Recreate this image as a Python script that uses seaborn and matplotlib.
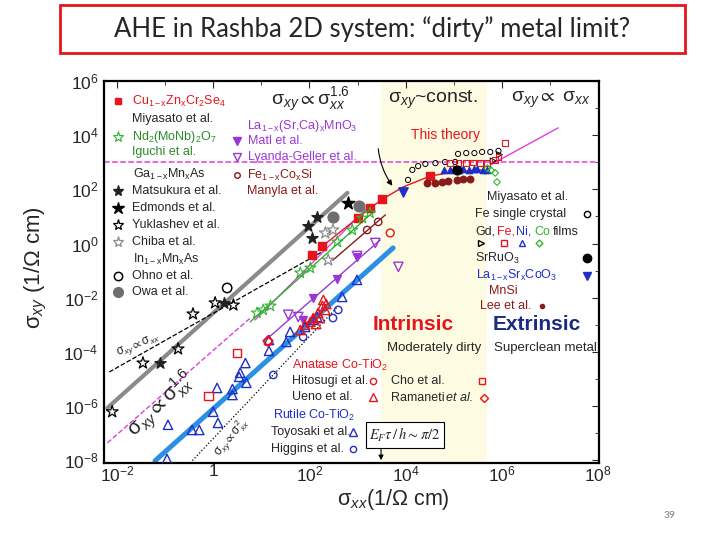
import numpy as np
import pandas as pd
import matplotlib
matplotlib.use('Agg')
import matplotlib.pyplot as plt
from matplotlib.patches import Rectangle
import seaborn as sns

# ------------------------------------------------------------
# values, stored as log10(sigma)
# x -> log10 sigma_xx , y -> log10 sigma_xy
# ------------------------------------------------------------

# fit / guide lines
gray_fit_x = [-2.20, 2.79]
gray_fit_y = [-6.07, 1.87]
blue_fit_x = [-1.21, 3.74]
blue_fit_y = [-8.02, -0.16]
slope1_x = [-2.16, 2.37]
slope1_y = [-4.74, -0.20]
slope2_x = [-0.48, 2.58]
slope2_y = [-8.10, -2.34]
slope16_x = [-2.20, 0.77]
slope16_y = [-7.36, -2.75]
clean_x = [5.76, 7.17]
clean_y = [2.90, 4.27]
theory_x = [2.27, 2.43, 3.26, 3.53, 3.95, 4.51, 4.99, 5.61]
theory_y = [-0.09, 0.13, 1.31, 1.65, 2.09, 2.49, 2.64, 2.72]
nd_fit_x = [0.77, 3.33]
nd_fit_y = [-2.89, 1.17]
mag_fit_x = [0.87, 3.26]
mag_fit_y = [-2.82, 1.42]
matl_fit_x = [1.19, 3.47]
matl_fit_y = [-3.41, 0.13]
fecosi_fit_x = [2.49, 3.58]
fecosi_fit_y = [-0.61, 1.06]
const_level = 3.0
dirty_band = [3.49, 5.70]
ef_tau_x = 3.49

# Cu1-xZnxCr2Se4 (Miyasato)
cu_x = [2.06, 2.27, 3.01, 3.26, 3.51, 4.51]
cu_y = [-0.42, -0.09, 0.94, 1.31, 1.65, 2.49]
# Nd2(MoNb)2O7 (Iguchi)
nd_x = [0.91, 1.04, 1.19, 1.81, 2.02, 2.58, 2.89, 3.10, 3.26]
nd_y = [-2.56, -2.45, -2.30, -1.08, -0.90, 0.06, 0.50, 0.94, 1.13]
# Ga1-xMnxAs
matsukura_x = [-1.10, 0.23, 1.98, 2.16, 2.06]
matsukura_y = [-4.41, -2.19, 0.65, 0.98, 0.21]
edmonds_x = [2.81]
edmonds_y = [1.50]
yuklashev_x = [-2.10, -1.46, -0.73, -0.42, 0.04, 0.42]
yuklashev_y = [-6.21, -4.41, -3.89, -2.60, -2.19, -2.27]
chiba_x = [2.33, 2.49, 2.39]
chiba_y = [0.39, 0.50, -0.61]
# In1-xMnxAs
ohno_x = [0.29]
ohno_y = [-1.64]
owa_x = [2.49, 3.04]
owa_y = [0.98, 1.39]
# La1-x(Sr,Ca)xMnO3
matl_x = [1.87, 2.08, 2.58, 2.99]
matl_y = [-2.82, -2.01, -1.31, -0.49]
lyanda_x = [1.56, 1.77, 2.99, 3.37, 3.85]
lyanda_y = [-2.63, -2.71, -0.46, 0.02, -0.86]
# Fe1-xCoxSi (Manyla)
fecosi_x = [3.20, 3.43]
fecosi_y = [0.50, 0.80]
# clean metals
fe_xtal_x = [4.05, 4.14, 4.26, 4.41, 4.62, 4.82, 5.03, 5.09, 5.26, 5.43, 5.59, 5.76, 5.93]
fe_xtal_y = [2.35, 2.72, 2.86, 2.94, 2.97, 3.01, 3.01, 3.31, 3.34, 3.34, 3.38, 3.38, 3.42]
gd_x = [5.82, 5.95]
gd_y = [3.05, 3.28]
fe_film_x = [4.93, 5.10, 5.25, 5.40, 5.55, 5.70, 5.86, 5.93, 6.07]
fe_film_y = [2.97, 2.98, 2.96, 2.99, 2.97, 2.98, 3.08, 3.19, 3.71]
ni_x = [4.80, 4.92, 5.01, 5.12, 5.19, 5.31, 5.42, 5.49, 5.61, 5.70]
ni_y = [2.70, 2.72, 2.74, 2.72, 2.75, 2.73, 2.76, 2.74, 2.72, 2.70]
co_film_x = [5.70, 5.78, 5.86, 5.90]
co_film_y = [2.78, 2.70, 2.61, 2.27]
srruo3_x = [5.07]
srruo3_y = [2.72]
lasrcoo3_x = [3.95]
lasrcoo3_y = [1.90]
mnsi_x = [4.45, 4.62, 4.76, 4.89, 5.07, 5.20, 5.34]
mnsi_y = [2.22, 2.24, 2.27, 2.31, 2.35, 2.38, 2.38]
# Co-TiO2 and others
toyosaki_x = [-0.96, -0.94, -0.44, -0.29, 0.00, 0.10, 0.08, 0.40, 0.40, 0.56, 0.54, 0.69,
              0.67, 1.16, 1.16, 1.52, 1.60, 1.91, 2.08, 2.16, 2.68, 2.99]
toyosaki_y = [-7.95, -6.69, -6.88, -6.88, -6.21, -6.62, -5.33, -5.37, -5.59, -4.77, -4.92, -5.14,
              -4.41, -3.56, -3.96, -3.63, -3.26, -3.08, -2.82, -2.71, -1.97, -1.34]
higgins_x = [1.25, 1.87, 2.49, 2.60]
higgins_y = [-4.85, -3.45, -2.75, -2.45]
hitosugi_x = [1.14, 3.68]
hitosugi_y = [-3.63, 0.39]
ueno_x = [2.08, 2.18, 2.27, 2.29, 2.22, 2.14, 2.02, 2.33, 1.91, 1.81, 2.35]
ueno_y = [-2.75, -2.56, -2.30, -2.08, -2.75, -2.97, -2.89, -2.45, -3.00, -3.19, -2.23]
cho_x = [0.50, -0.10]
cho_y = [-4.04, -5.62]
ramaneti_x = [1.14]
ramaneti_y = [-3.59]

xtick_pos = [-2, 0, 2, 4, 6, 8]
xtick_lbl = [r'$10^{-2}$', '1', r'$10^{2}$', r'$10^{4}$', r'$10^{6}$', r'$10^{8}$']
ytick_pos = [-8, -6, -4, -2, 0, 2, 4, 6]
ytick_lbl = [r'$10^{-8}$', r'$10^{-6}$', r'$10^{-4}$', r'$10^{-2}$', r'$10^{0}$',
             r'$10^{2}$', r'$10^{4}$', r'$10^{6}$']

# colours
RED = '#e8141c'
DRED = '#8b1a1a'
GREEN = '#2fb52f'
PURPLE = '#9b36d6'
MAGENTA = '#e03ee0'
BLUE = '#1f2fc8'
LBLUE = '#2c8fe3'
NAVY = '#1a2a80'

sns.set_style('white')
plt.rcParams['font.family'] = ['Liberation Sans', 'DejaVu Sans']
plt.rcParams['mathtext.fontset'] = 'custom'
plt.rcParams['mathtext.rm'] = 'Liberation Sans'
plt.rcParams['mathtext.it'] = 'Liberation Sans:italic'
plt.rcParams['mathtext.bf'] = 'Liberation Sans:bold'
plt.rcParams['mathtext.default'] = 'regular'

fig = plt.figure(figsize=(7.2, 5.4), dpi=100)
ax = fig.add_axes([104 / 720, 1 - 463 / 540, 495 / 720, 382 / 540])
ax.set_xscale('log')
ax.set_yscale('log')


def F(px, py):
    # figure pixel -> figure fraction
    return px / 720, 1 - py / 540


def v(a):
    return 10.0 ** np.asarray(a, dtype=float)


def line(xl, yl, color, lw=1.0, ls='-', z=2):
    sns.lineplot(x=v(xl), y=v(yl), ax=ax, color=color, lw=lw, linestyle=ls,
                 sort=False, estimator=None, zorder=z, legend=False)


def pts(xl, yl, marker, color, filled=True, s=30, lw=1.0, z=4):
    d = pd.DataFrame({'x': v(xl), 'y': v(yl)})
    sns.scatterplot(data=d, x='x', y='y', ax=ax, marker=marker, s=s,
                    color=color if filled else 'none', edgecolor=color,
                    linewidth=lw, zorder=z, legend=False)


def ftxt(px, py, s, **kw):
    kw.setdefault('va', 'center')
    kw.setdefault('ha', 'left')
    return fig.text(*F(px, py), s, **kw)


def fmark(px, py, marker, color, filled=True, ms=6, mew=1.0):
    fx, fy = F(px, py)
    ax.plot([fx], [fy], marker=marker, ms=ms, mew=mew, color=color,
            mfc=color if filled else 'none', transform=fig.transFigure,
            clip_on=False, zorder=6)


# background band
ax.axvspan(v(dirty_band[0]), v(dirty_band[1]), color='#fdfbe2', zorder=0, lw=0)
ax.axhline(v(const_level), color=MAGENTA, lw=1.1, ls='--', zorder=1)

# guide lines
line(gray_fit_x, gray_fit_y, '#8a8a8a', lw=3.0)
line(blue_fit_x, blue_fit_y, LBLUE, lw=3.6)
line(slope1_x, slope1_y, 'k', lw=0.9, ls='--')
line(slope2_x, slope2_y, 'k', lw=0.9, ls=':')
line(slope16_x, slope16_y, MAGENTA, lw=1.0, ls='--')
line(clean_x, clean_y, MAGENTA, lw=1.0)
line(mag_fit_x, mag_fit_y, MAGENTA, lw=1.0)
line(nd_fit_x, nd_fit_y, GREEN, lw=1.0)
line(matl_fit_x, matl_fit_y, PURPLE, lw=1.0)
line(fecosi_fit_x, fecosi_fit_y, DRED, lw=1.0)
line(theory_x, theory_y, RED, lw=1.0)

# data points
pts(cu_x, cu_y, 's', RED, s=28)
pts(nd_x, nd_y, '*', GREEN, filled=False, s=70, lw=0.8)
pts(yuklashev_x, yuklashev_y, '*', 'k', filled=False, s=80, lw=0.9)
pts(matsukura_x, matsukura_y, '*', '#222222', s=70)
pts(edmonds_x, edmonds_y, '*', 'k', s=90)
pts(chiba_x, chiba_y, '*', '#8c8c8c', filled=False, s=80, lw=0.9)
pts(ohno_x, ohno_y, 'o', 'k', filled=False, s=45, lw=1.1)
pts(owa_x, owa_y, 'o', '#6e6e6e', s=60)
pts(matl_x, matl_y, 'v', PURPLE, s=32)
pts(lyanda_x, lyanda_y, 'v', PURPLE, filled=False, s=45, lw=1.0)
pts(fecosi_x, fecosi_y, 'o', DRED, filled=False, s=28, lw=1.0)
pts(fe_xtal_x, fe_xtal_y, 'o', 'k', filled=False, s=14, lw=0.7)
pts(gd_x, gd_y, '>', 'k', filled=False, s=18, lw=0.7)
pts(fe_film_x, fe_film_y, 's', RED, filled=False, s=18, lw=0.8)
pts(ni_x, ni_y, '^', BLUE, s=20)
pts(co_film_x, co_film_y, 'D', GREEN, filled=False, s=12, lw=0.8)
pts(srruo3_x, srruo3_y, 'o', 'k', s=40)
pts(lasrcoo3_x, lasrcoo3_y, 'v', BLUE, s=45)
pts(mnsi_x, mnsi_y, 'o', DRED, s=22)
pts(toyosaki_x, toyosaki_y, '^', BLUE, filled=False, s=45, lw=1.0)
pts(higgins_x, higgins_y, 'o', BLUE, filled=False, s=28, lw=1.0)
pts(hitosugi_x, hitosugi_y, 'o', RED, filled=False, s=32, lw=1.0)
pts(ueno_x, ueno_y, '^', RED, filled=False, s=45, lw=1.0)
pts(cho_x, cho_y, 's', RED, filled=False, s=36, lw=1.0)
pts(ramaneti_x, ramaneti_y, 'D', RED, filled=False, s=26, lw=1.0)

# axes
ax.set_xlim(v(-2.27), v(8.02))
ax.set_ylim(v(-8.1), v(6.0))
ax.set_xticks(v(xtick_pos), labels=xtick_lbl)
ax.set_yticks(v(ytick_pos), labels=ytick_lbl)
ax.set_xticks(v([-1, 1, 3, 5, 7]), minor=True)
ax.set_yticks(v([-7, -5, -3, -1, 1, 3, 5]), minor=True)
ax.xaxis.set_minor_formatter(matplotlib.ticker.NullFormatter())
ax.yaxis.set_minor_formatter(matplotlib.ticker.NullFormatter())
ax.tick_params(which='both', direction='in', top=True, right=True, labelsize=12.5)
ax.tick_params(which='major', length=5, width=0.8)
ax.tick_params(which='minor', length=3, width=0.6)
ax.tick_params(axis='x', pad=1)
ax.tick_params(axis='y', pad=4)
for sp in ax.spines.values():
    sp.set_linewidth(1.6)
    sp.set_color('k')
ax.set_xlabel('')
ax.set_ylabel('')
ftxt(393, 499, r'$\sigma_{\mathit{xx}}$(1/$\Omega$ cm)', ha='center', fontsize=15.5)
ftxt(36, 268, r'$\sigma_{\mathit{xy}}$ (1/$\Omega$ cm)', ha='center', fontsize=16, rotation=90)

# upper-left legend
lf = 9
fmark(118, 101, 's', RED, ms=5)
ftxt(132, 101, r'Cu$_{1-x}$Zn$_x$Cr$_2$Se$_4$', color=RED, fontsize=lf)
ftxt(132, 119, 'Miyasato et al.', fontsize=lf)
fmark(118, 137, '*', GREEN, filled=False, ms=8, mew=0.8)
ftxt(132, 137, r'Nd$_2$(MoNb)$_2$O$_7$', color='#2a8a2a', fontsize=lf)
ftxt(132, 152, 'Iguchi et al.', color='#2a8a2a', fontsize=lf)
ftxt(133, 174, r'Ga$_{1-x}$Mn$_x$As', fontsize=lf)
fmark(118, 191, '*', '#222222', ms=8)
ftxt(132, 191, 'Matsukura et al.', fontsize=lf)
fmark(118, 208, '*', 'k', ms=9)
ftxt(132, 208, 'Edmonds et al.', fontsize=lf)
fmark(118, 225, '*', 'k', filled=False, ms=8, mew=0.9)
ftxt(132, 225, 'Yuklashev et al.', fontsize=lf)
fmark(118, 242, '*', '#8c8c8c', filled=False, ms=8, mew=0.9)
ftxt(132, 242, 'Chiba et al.', fontsize=lf)
ftxt(133, 259, r'In$_{1-x}$Mn$_x$As', fontsize=lf)
fmark(118, 276, 'o', 'k', filled=False, ms=6, mew=1.1)
ftxt(132, 276, 'Ohno et al.', fontsize=lf)
fmark(118, 292, 'o', '#6e6e6e', ms=7)
ftxt(132, 292, 'Owa et al.', fontsize=lf)

# upper-middle legend
ftxt(247, 126, r'La$_{1-x}$(Sr,Ca)$_x$MnO$_3$', color=PURPLE, fontsize=lf)
fmark(237, 141, 'v', PURPLE, ms=6)
ftxt(248, 141, 'Matl et al.', color=PURPLE, fontsize=lf)
fmark(237, 157, 'v', PURPLE, filled=False, ms=6)
ftxt(248, 157, 'Lyanda-Geller et al.', color=PURPLE, fontsize=lf)
fmark(237, 175, 'o', DRED, filled=False, ms=4)
ftxt(247, 175, r'Fe$_{1-x}$Co$_x$Si', color=DRED, fontsize=lf)
ftxt(247, 191, 'Manyla et al.', color=DRED, fontsize=lf)

# right legend
ftxt(487, 197, 'Miyasato et al.', fontsize=lf)
ftxt(475, 214, 'Fe single crystal', fontsize=lf)
fmark(587, 214, 'o', 'k', filled=False, ms=4.5)
ftxt(475, 232, 'Gd,', fontsize=lf)
ftxt(497, 232, 'Fe,', color=RED, fontsize=lf)
ftxt(516, 232, 'Ni,', color=BLUE, fontsize=lf)
ftxt(534, 232, 'Co', color=GREEN, fontsize=lf)
ftxt(553, 232, 'films', fontsize=lf)
fmark(481, 243, '>', 'k', filled=False, ms=5)
fmark(504, 243, 's', RED, filled=False, ms=5)
fmark(522, 243, '^', BLUE, filled=False, ms=5)
fmark(539, 243, 'D', GREEN, filled=False, ms=3.5)
ftxt(475, 258, r'SrRuO$_3$', fontsize=lf)
fmark(587, 258, 'o', 'k', ms=6)
ftxt(476, 275, r'La$_{1-x}$Sr$_x$CoO$_3$', color=BLUE, fontsize=lf)
fmark(587, 276, 'v', BLUE, ms=6)
ftxt(489, 291, 'MnSi', color=DRED, fontsize=lf)
ftxt(480, 306, 'Lee et al.', color=DRED, fontsize=lf)
fmark(542, 306, 'o', DRED, ms=3)

# lower legend
ftxt(292, 365, r'Anatase Co-TiO$_2$', color=RED, fontsize=lf)
ftxt(292, 381, 'Hitosugi et al.', fontsize=lf)
fmark(373, 381, 'o', RED, filled=False, ms=4.5)
ftxt(292, 397, 'Ueno et al.', fontsize=lf)
fmark(373, 397, '^', RED, filled=False, ms=6)
ftxt(273, 415, r'Rutile Co-TiO$_2$', color=BLUE, fontsize=lf)
ftxt(271, 432, 'Toyosaki et al.', fontsize=lf)
fmark(353, 432, '^', BLUE, filled=False, ms=6)
ftxt(271, 449, 'Higgins et al.', fontsize=lf)
fmark(353, 449, 'o', BLUE, filled=False, ms=4.5)
ftxt(391, 381, 'Cho et al.', fontsize=lf)
fmark(482, 381, 's', RED, filled=False, ms=5)
ftxt(391, 398, 'Ramaneti', fontsize=lf)
ftxt(446, 398, 'et al.', fontsize=lf, style='italic')
fmark(484, 398, 'D', RED, filled=False, ms=4.5)

# regime labels
ftxt(310, 100, r'$\sigma_{\mathit{xy}}\propto\sigma_{\mathit{xx}}^{1.6}$', ha='center', fontsize=14)
ftxt(433, 100, r'$\sigma_{\mathit{xy}}$~const.', ha='center', fontsize=14)
ftxt(551, 100, r'$\sigma_{\mathit{xy}}\propto\ \sigma_{\mathit{xx}}$', ha='center', fontsize=14)
ftxt(411, 135, 'This theory', color=RED, fontsize=10)
ax.annotate('', xy=F(394, 188), xytext=F(378, 146), xycoords='figure fraction',
            arrowprops=dict(arrowstyle='-|>', color='k', lw=0.8, mutation_scale=8,
                            connectionstyle='arc3,rad=0.15'))
ftxt(413, 325, 'Intrinsic', ha='center', color=RED, fontsize=15, fontweight='bold')
ftxt(537, 325, 'Extrinsic', ha='center', color=NAVY, fontsize=15, fontweight='bold')
ftxt(434, 348, 'Moderately dirty', ha='center', fontsize=9.5)
ftxt(545, 348, 'Superclean metal', ha='center', fontsize=9.5)

# slope labels along the guide lines
ftxt(138, 345, r'$\sigma_{\mathit{xy}}\propto\sigma_{\mathit{xx}}$', ha='center', fontsize=8.5, rotation=22)
ftxt(161, 405, r'$\sigma_{\mathit{xy}}\propto\sigma_{\mathit{xx}}^{1.6}$', ha='center', fontsize=15, rotation=44)
ftxt(231, 437, r'$\sigma_{\mathit{xy}}\propto\sigma_{\mathit{xx}}^{2}$', ha='center', fontsize=8.5, rotation=50)

# E_F tau box
ftxt(405, 435, r'$\mathit{E_F\tau\,/\,h\sim\pi/2}$', ha='center', fontsize=10.5,
     math_fontfamily='stix',
     bbox=dict(boxstyle='square,pad=0.25', fc='white', ec='k', lw=0.8))
ax.annotate('', xy=(v(ef_tau_x), v(-8.1)), xycoords='data', xytext=F(381, 443),
            textcoords='figure fraction',
            arrowprops=dict(arrowstyle='-|>', color='k', lw=0.8, mutation_scale=7))

# slide title and page number
fig.add_artist(Rectangle(F(60, 53), 625 / 720, 48 / 540, transform=fig.transFigure,
                         fill=False, ec=RED, lw=2))
fig.text(*F(372, 29), 'AHE in Rashba 2D system: \u201cdirty\u201d metal limit?', ha='center',
         va='center', fontsize=18.5, family=['Lato', 'DejaVu Sans'])
fig.text(*F(670, 515), '39', ha='center', va='center', fontsize=7.5, color='#7f7f7f',
         family=['Lato', 'DejaVu Sans'])

fig.savefig('out.png', dpi=100)
